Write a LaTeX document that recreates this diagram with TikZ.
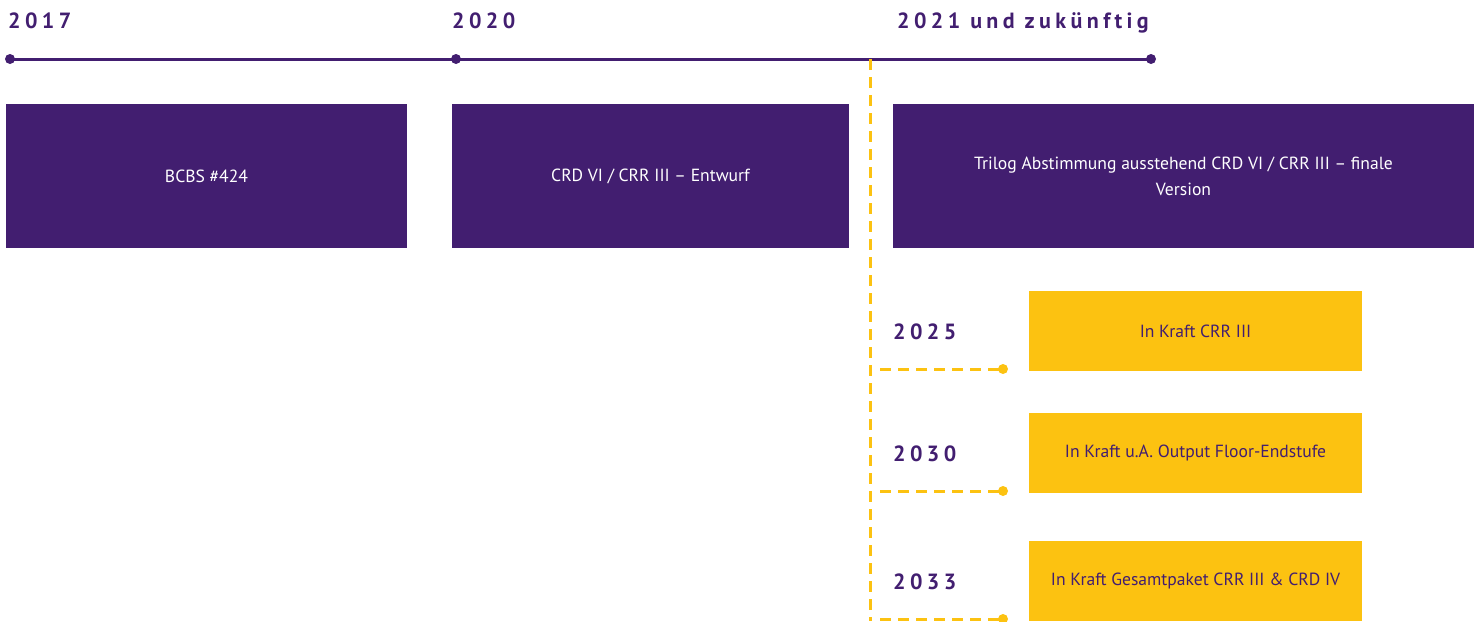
\documentclass[tikz,border=0pt]{standalone}
\usepackage{fontspec}
\setmainfont{PT Sans}
\newfontfamily\yearfont[LetterSpace=20]{PT Sans}
\definecolor{lila}{RGB}{66,30,112}
\definecolor{gelb}{RGB}{252,194,17}
\tikzset{
	phase/.style={fill=lila, text=white, minimum height=144, inner sep=0, align=center, font=\fontsize{17.6}{26}\selectfont},
	stufe/.style={fill=gelb, text=lila, minimum width=333, minimum height=80, inner sep=0, align=center, font=\fontsize{17.6}{26}\selectfont},
	jahr/.style={anchor=base west, inner sep=0, text=lila, font=\yearfont\bfseries\fontsize{22}{24}\selectfont},
	zeitlinie/.style={draw=lila, line width=3},
	gestrichelt/.style={draw=gelb, line width=3, dash pattern=on 11 off 7}
}
\begin{document}
\begin{tikzpicture}[x=1pt, y=-1pt, line join=round]
				\useasboundingbox (0,0) rectangle (1480,621);
				% Zeitstrahl oben
				\coordinate (t17) at (10,59);
				\coordinate (t20) at (456,59);
				\coordinate (t21) at (1151,59);
				\draw[zeitlinie] (t17)--(t21);
				\foreach \p in {t17,t20,t21} \fill[lila] (\p) circle(5);
				\node[jahr] (j17) at (8,28) {2017};
				\node[jahr] (j20) at (452,28) {2020};
				\node[jahr] (j21) at (897,28) {2021 und zukünftig};
				% Phasen
				\node[phase, minimum width=401] (bcbs) at (206.5,176) {BCBS \#424};
				\node[phase, minimum width=397] (entwurf) at (650.5,176) {CRD VI / CRR III – Entwurf};
				\node[phase, minimum width=581] (trilog) at (1183.5,176) {Trilog Abstimmung ausstehend CRD VI / CRR III – finale\\Version};
				% Ausblick
				\coordinate (v0) at (870,59);
				\coordinate (v1) at (870,621);
				\draw[gestrichelt] (v0)--(v1);
				\foreach \n/\y/\jahr/\txt in {a/331/2025/In Kraft CRR III, b/453/2030/In Kraft u.A. Output Floor-Endstufe, c/581/2033/In Kraft Gesamtpaket CRR III \& CRD IV} {
					\node[stufe] (s\n) at (1195.5,\y) {\txt};
					\node[jahr] (j\n) at (893,\y+8) {\jahr};
					\coordinate (h\n) at (880,\y+38);
					\coordinate (p\n) at (1003,\y+38);
					\draw[gestrichelt] (h\n)--(p\n);
					\fill[gelb] (p\n) circle(5);
				}
\end{tikzpicture}
\end{document}
